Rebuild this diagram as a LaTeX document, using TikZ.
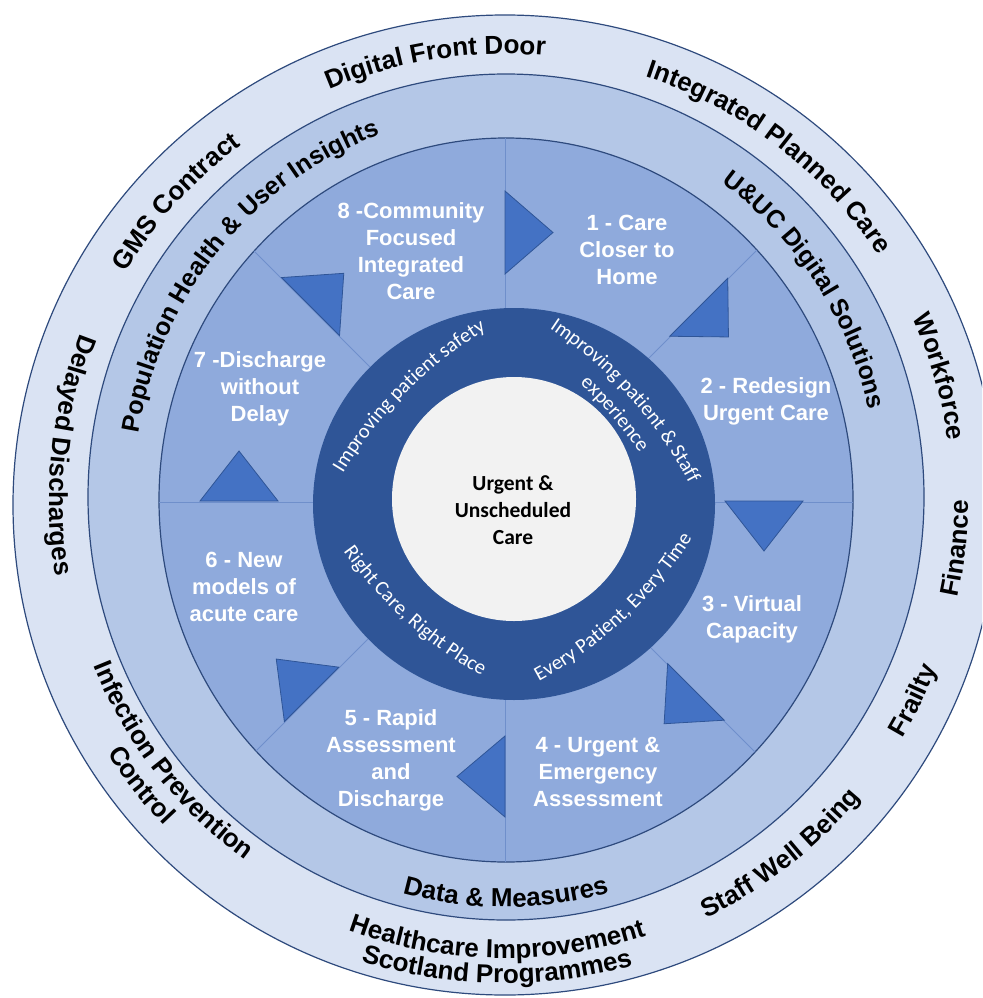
\documentclass[tikz,border=0pt]{standalone}
\usepackage{fontspec}
\setmainfont{Liberation Sans}
\newfontfamily\calfont{Carlito}
\usetikzlibrary{decorations.text,calc}

\definecolor{ringA}{HTML}{DAE3F3}
\definecolor{ringB}{HTML}{B4C7E7}
\definecolor{ringC}{HTML}{8FAADC}
\definecolor{ringD}{HTML}{2F5597}
\definecolor{coreW}{HTML}{F2F2F2}
\definecolor{triF}{HTML}{4472C4}
\definecolor{triE}{HTML}{2F5597}
\definecolor{edgeC}{HTML}{2E4A7D}
\definecolor{divl}{HTML}{6F8FCB}

\newcommand\lblfont{\bfseries\fontsize{26}{26}\selectfont}
\newcommand\midfont{\bfseries\fontsize{25}{25}\selectfont}
\newcommand\inrfont{\calfont\fontsize{20.5}{20.5}\selectfont}

\tikzset{
  seglabel/.style={text=white, font=\bfseries\fontsize{22}{27}\selectfont, align=center},
  corelabel/.style={text=black, font=\calfont\bfseries\fontsize{21.5}{27}\selectfont, align=center},
  arrowtri/.style={fill=triF, draw=triE, line width=0.8pt, line join=miter},
  ringedge/.style={draw=edgeC, line width=1.2pt},
}

% clockwise text on a circle: #1 centre, #2 mid angle, #3 radius, #4 font, #5 colour, #6 text
\newcommand\cwtext[6]{\path[decorate,decoration={text along path,text align=center,text color=#5,text={|#4|#6}}]
  ([shift={({#2+80}:#3)}]#1) arc[start angle={#2+80},end angle={#2-80},radius=#3];}
% counter-clockwise text on a circle
\newcommand\ccwtext[6]{\path[decorate,decoration={text along path,text align=center,text color=#5,text={|#4|#6}}]
  ([shift={({#2-80}:#3)}]#1) arc[start angle={#2-80},end angle={#2+80},radius=#3];}
% clockwise / counter-clockwise text on an ellipse: #1 centre, #2 mid angle, #3 rx, #4 ry, #5 font, #6 text
\newcommand\cwell[6]{\path[decorate,decoration={text along path,text align=center,text color=black,text={|#5|#6}}]
  ([shift={({#2+80}:#3 and #4)}]#1) arc[start angle={#2+80},end angle={#2-80},x radius=#3,y radius=#4];}
\newcommand\ccwell[6]{\path[decorate,decoration={text along path,text align=center,text color=black,text={|#5|#6}}]
  ([shift={({#2-80}:#3 and #4)}]#1) arc[start angle={#2-80},end angle={#2+80},x radius=#3,y radius=#4];}
% flat arched text: #1 centre, #2 direction, #3 distance of mid baseline, #4 arc radius, #5 text
\newcommand\flatcw[5]{\path[decorate,decoration={text along path,text align=center,text color=white,text={|\inrfont|#5}}]
  ($(#1)+({#2}:{#3-#4})+({#2+40}:#4)$) arc[start angle={#2+40},end angle={#2-40},radius=#4];}
\newcommand\flatccw[5]{\path[decorate,decoration={text along path,text align=center,text color=white,text={|\inrfont|#5}}]
  ($(#1)+({#2}:{#3-#4})+({#2-40}:#4)$) arc[start angle={#2-40},end angle={#2+40},radius=#4];}
% triangle: #1 angle, #2 inner r, #3 outer r, #4 height
\newcommand\segtri[4]{\path[arrowtri] ([shift={({#1}:#2)}]C) -- ([shift={({#1}:#3)}]C)
  -- ($(C)+({#1}:{(#2+#3)/2})+({#1-90}:#4)$) -- cycle;}

\begin{document}
\begin{tikzpicture}[x=1pt,y=1pt]
\useasboundingbox (0,0) rectangle (982,-998);
\clip (0,0) rectangle (982,-998);
\fill[white] (0,0) rectangle (982,-998);
\coordinate (C) at (505,-501);
\coordinate (O) at (514,-501);
\coordinate (E) at (506,-498);

% rings
\path[ringedge, fill=ringA] (505,-505) ellipse [x radius=492, y radius=490];
\path[ringedge, fill=ringB] (506,-497) ellipse [x radius=418, y radius=423];
\path[ringedge, fill=ringC] (506,-500) ellipse [x radius=347, y radius=362];
\begin{scope}
  \clip (506,-500) ellipse [x radius=347, y radius=362];
  \foreach \a in {0,45,...,315} \draw[divl, line width=1pt] (505,-502) -- ++(\a:420);
\end{scope}
\fill[ringD] (514,-504) ellipse [x radius=201, y radius=196];
\fill[coreW] (514,-499) circle [radius=122];

% triangles
\segtri{90}{227}{310}{48}
\segtri{45}{233}{315}{42}
\segtri{0}{220}{298}{50}
\segtri{-45}{230}{310}{45}
\segtri{-90}{235}{316}{48}
\segtri{-135}{235}{312}{50}
\segtri{180}{227}{305}{50}
\segtri{135}{234}{316}{47}

% segment labels
\node[seglabel] (s1) at (627,-250) {1 - Care\\Closer to\\Home};
\node[seglabel] (s2) at (766,-401) {2 - Redesign\\Urgent Care};
\node[seglabel] (s3) at (752,-619) {3 - Virtual\\Capacity};
\node[seglabel] (s4) at (598,-772) {4 - Urgent \&\\Emergency\\Assessment};
\node[seglabel] (s5) at (391,-760) {5 - Rapid\\Assessment\\and\\Discharge};
\node[seglabel] (s6) at (244,-587) {6 - New\\models of\\acute care};
\node[seglabel] (s7) at (260,-389) {7 -Discharge\\without\\Delay};
\node[seglabel] (s8) at (411,-251) {8 -Community\\Focused\\Integrated\\Care};

% centre
\node[corelabel] (core) at (513,-510) {Urgent \&\\Unscheduled\\Care};

% inner dark ring texts
\flatcw{O}{135}{153}{420}{Improving patient safety}
\flatcw{O}{42}{155}{420}{Improving patient {\&} Staff}
\flatcw{O}{40.7}{129}{395}{experience}
\flatccw{O}{-132}{162}{420}{Right Care, Right Place}
\flatccw{O}{-47}{162}{420}{Every Patient, Every Time}

% second ring texts
\cwell{E}{139.3}{373}{386}{\midfont}{Population Health {\&} User Insights}
\cwell{E}{34.7}{373}{386}{\midfont}{U{\&}UC Digital Solutions}
\ccwell{E}{-90}{398}{409}{\lblfont}{Data {\&} Measures}

% outer ring texts
\cwtext{C}{99}{447}{\lblfont}{black}{Digital Front Door}
\cwtext{C}{52.5}{447}{\lblfont}{black}{Integrated Planned Care}
\cwtext{C}{16}{447}{\lblfont}{black}{Workforce}
\cwtext{C}{137.7}{443}{\lblfont}{black}{GMS Contract}
\ccwtext{C}{-6}{463}{\lblfont}{black}{Finance}
\ccwtext{C}{-26}{463}{\lblfont}{black}{Frailty}
\ccwtext{C}{-52}{463}{\lblfont}{black}{Staff Well Being}
\ccwtext{C}{-91}{457}{\lblfont}{black}{Healthcare Improvement}
\ccwtext{C}{-91}{482}{\lblfont}{black}{Scotland Programmes}
\ccwtext{C}{-142}{443}{\lblfont}{black}{Infection Prevention}
\ccwtext{C}{-142}{471}{\lblfont}{black}{Control}
\ccwtext{C}{174}{456}{\lblfont}{black}{Delayed Discharges}
\end{tikzpicture}
\end{document}
